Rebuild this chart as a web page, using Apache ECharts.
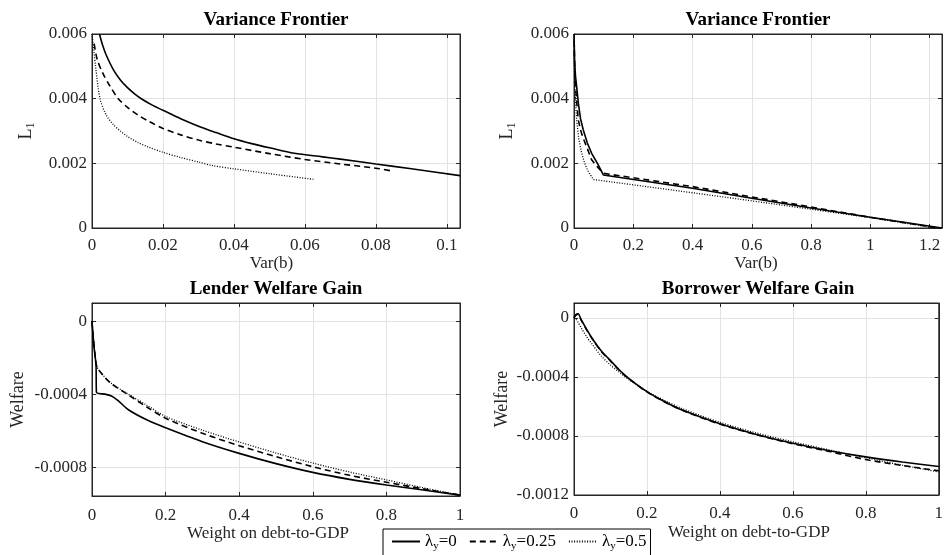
<!DOCTYPE html>
<html>
<head>
<meta charset="utf-8">
<script src="https://cdn.jsdelivr.net/npm/echarts@6/dist/echarts.min.js"></script>
<style>html,body{margin:0;padding:0;background:#fff}#c{width:946px;height:555px}</style>
</head>
<body>
<div id="c"></div>
<script>
// ---------- data ----------
const seriesLabels = ['0', '0.25', '0.5'];

// Panel 1: Variance Frontier (left)
const p1SolidX = [0.0021, 0.003, 0.004, 0.006, 0.008, 0.01, 0.012, 0.014, 0.017, 0.02, 0.025, 0.03, 0.035, 0.04, 0.045, 0.05, 0.057, 0.065, 0.07, 0.08, 0.09, 0.1037];
const p1SolidY = [0.0060, 0.00565, 0.00535, 0.0049, 0.00458, 0.00434, 0.00415, 0.00399, 0.0038, 0.00364, 0.00338, 0.00315, 0.00295, 0.00276, 0.00261, 0.00248, 0.00231, 0.00220, 0.00213, 0.00198, 0.00183, 0.00162];
const p1DashX = [0.0006, 0.0015, 0.003, 0.005, 0.0074, 0.01, 0.013, 0.016, 0.02, 0.025, 0.03, 0.035, 0.04, 0.05, 0.06, 0.07, 0.08, 0.0847];
const p1DashY = [0.0057, 0.0052, 0.0048, 0.0044, 0.0040, 0.00373, 0.00349, 0.0033, 0.00308, 0.00288, 0.00272, 0.0026, 0.0025, 0.0023, 0.00212, 0.00198, 0.00185, 0.00176];
const p1DotX = [0.0, 0.0005, 0.001, 0.00225, 0.004, 0.006, 0.008, 0.01, 0.013, 0.016, 0.02, 0.025, 0.03, 0.034, 0.04, 0.05, 0.0628];
const p1DotY = [0.0060, 0.0055, 0.0050, 0.0040, 0.0035, 0.0032, 0.0030, 0.00283, 0.00264, 0.0025, 0.00234, 0.00218, 0.00204, 0.00193, 0.00183, 0.00168, 0.00150];

// Panel 2: Variance Frontier (right)
const p2SolidX = [0.0, 0.002, 0.005, 0.009, 0.0146, 0.022, 0.0314, 0.045, 0.0596, 0.08, 0.099, 0.4, 0.6, 0.8, 1.0, 1.242];
const p2SolidY = [0.0060, 0.0052, 0.0047, 0.00437, 0.00386, 0.00338, 0.00303, 0.00263, 0.00231, 0.00198, 0.00164, 0.00123, 0.00092, 0.00062, 0.00033, 0.0];
const p2DashX = [0.0005, 0.003, 0.008, 0.0146, 0.022, 0.03, 0.0427, 0.06, 0.08, 0.1, 0.4, 0.6, 0.8, 1.0, 1.23];
const p2DashY = [0.0058, 0.0047, 0.0040, 0.00334, 0.00303, 0.0028, 0.00251, 0.0021, 0.00188, 0.00169, 0.00128, 0.00096, 0.00065, 0.00033, 0.0];
const p2DotX = [0.0, 0.002, 0.005, 0.009, 0.016, 0.026, 0.035, 0.045, 0.065, 0.4, 0.6, 0.8, 1.0, 1.22];
const p2DotY = [0.0055, 0.0045, 0.0039, 0.00334, 0.00276, 0.00231, 0.00203, 0.0018, 0.0015, 0.00109, 0.00084, 0.00058, 0.00032, 0.0];

// Panel 3: Lender Welfare Gain
const p3SolidX = [0, 0.003, 0.006, 0.009, 0.011, 0.012, 0.02, 0.035, 0.053, 0.07, 0.1, 0.15, 0.2, 0.3, 0.4, 0.5, 0.6, 0.7, 0.8, 0.9, 1.0];
const p3SolidY = [0, -0.00008, -0.00015, -0.0002, -0.00024, -0.000388, -0.000395, -0.000398, -0.000408, -0.000432, -0.000485, -0.00054, -0.000582, -0.000658, -0.000722, -0.000778, -0.000826, -0.000864, -0.000895, -0.000922, -0.00095];
const p3DashX = [0, 0.003, 0.008, 0.012, 0.02, 0.05, 0.1, 0.15, 0.2, 0.3, 0.4, 0.5, 0.6, 0.7, 0.8, 0.9, 1.0];
const p3DashY = [0, -0.00008, -0.00018, -0.00024, -0.00027, -0.000337, -0.000404, -0.00047, -0.00053, -0.000612, -0.00068, -0.00074, -0.000795, -0.000842, -0.00088, -0.000916, -0.00095];
const p3DotX = [0, 0.003, 0.008, 0.012, 0.02, 0.05, 0.1, 0.15, 0.2, 0.3, 0.4, 0.5, 0.6, 0.7, 0.8, 0.9, 1.0];
const p3DotY = [0, -0.00008, -0.00018, -0.00024, -0.00027, -0.000335, -0.0004, -0.00046, -0.00052, -0.000595, -0.00066, -0.00072, -0.000775, -0.000824, -0.000867, -0.00091, -0.00095];

// Panel 4: Borrower Welfare Gain
const p4X = [0, 0.005, 0.011, 0.02, 0.035, 0.05, 0.075, 0.1, 0.125, 0.15, 0.2, 0.25, 0.3, 0.4, 0.5, 0.6, 0.7, 0.8, 0.9, 1.0];
const p4SolidY = [0, 0.00002, 0.000027, -0.000015, -0.00008, -0.00014, -0.000225, -0.00029, -0.000355, -0.00041, -0.0005, -0.00057, -0.000628, -0.000718, -0.00079, -0.00085, -0.0009, -0.000942, -0.000977, -0.001007];
const p4DashY = [0, 0.000018, 0.000024, -0.000018, -0.000083, -0.000143, -0.000228, -0.000293, -0.000357, -0.000412, -0.000502, -0.000572, -0.00063, -0.00072, -0.000792, -0.000853, -0.000906, -0.00096, -0.001, -0.001036];
const p4DotY = [0, -0.00001, -0.00003, -0.00007, -0.00013, -0.00018, -0.00026, -0.00032, -0.00037, -0.000418, -0.000498, -0.000562, -0.000618, -0.000708, -0.00078, -0.00084, -0.000895, -0.000948, -0.000998, -0.001044];

// tick values
const p1XTicks = [0, 0.02, 0.04, 0.06, 0.08, 0.1];
const p2XTicks = [0, 0.2, 0.4, 0.6, 0.8, 1, 1.2];
const wXTicks = [0, 0.2, 0.4, 0.6, 0.8, 1];
const lYTicks = [0, 0.002, 0.004, 0.006];
const p3YTicks = [-0.0008, -0.0004, 0];
const p4YTicks = [-0.0012, -0.0008, -0.0004, 0];

// ---------- chart ----------
const FONT = '"Liberation Serif", "Times New Roman", serif';
const TXT = '#262626';
const zip = (xs, ys) => xs.map((x, i) => [x, ys[i]]);

const grids = [
  { left: 92, top: 34, width: 368, height: 194 },
  { left: 574, top: 34, width: 368, height: 194 },
  { left: 92, top: 303, width: 368, height: 193 },
  { left: 574, top: 303, width: 368, height: 192 }
];
const xRanges = [[0, 0.1037], [0, 1.242], [0, 1], [0, 1]];
const yRanges = [[0, 0.006], [0, 0.006], [-0.000955, 0.0001], [-0.0012, 0.0001]];
const xTicks = [p1XTicks, p2XTicks, wXTicks, wXTicks];
const yTicks = [lYTicks, lYTicks, p3YTicks, p4YTicks];
const xNames = ['Var(b)', 'Var(b)', 'Weight on debt-to-GDP', 'Weight on debt-to-GDP'];
const yNames = ['{m|L}{s|1}', '{m|L}{s|1}', '{m|Welfare}', '{m|Welfare}'];
const xNameGaps = [23, 23, 29, 29];
const xNamePads = [[0, 9, 0, 0], [0, 4, 0, 0], [0, 16, 0, 0], [0, 15, 0, 0]];
const xLabelMargins = [9, 9, 11, 10];
const yNameGaps = [55, 56, 63, 61];
const titles = ['Variance Frontier', 'Variance Frontier', 'Lender Welfare Gain', 'Borrower Welfare Gain'];
const smoothing = [0.3, false, 0.3, 0.3];

const fmt = v => {
  if (v === 0) return '0';
  return String(parseFloat(v.toPrecision(6)));
};

const xAxes = [], yAxes = [];
for (let i = 0; i < 4; i++) {
  xAxes.push({
    type: 'value', gridIndex: i, min: xRanges[i][0], max: xRanges[i][1], position: 'bottom',
    name: xNames[i], nameLocation: 'middle', nameGap: xNameGaps[i],
    nameTextStyle: { fontFamily: FONT, fontSize: 17, color: TXT, padding: xNamePads[i] },
    axisLine: { show: true, onZero: false, lineStyle: { color: TXT, width: 1 } },
    axisTick: { show: true, inside: true, length: 4, customValues: xTicks[i], lineStyle: { color: TXT } },
    axisLabel: { customValues: xTicks[i], formatter: fmt, fontFamily: FONT, fontSize: 17, color: TXT, margin: xLabelMargins[i] },
    splitLine: { show: true, lineStyle: { color: '#e3e3e3', width: 1 } }
  });
  yAxes.push({
    type: 'value', gridIndex: i, min: yRanges[i][0], max: yRanges[i][1], position: 'left',
    name: yNames[i], nameLocation: 'middle', nameGap: yNameGaps[i], nameRotate: 90,
    nameTextStyle: {
      fontFamily: FONT, color: TXT,
      rich: {
        m: { fontFamily: FONT, fontSize: 18, color: TXT, lineHeight: 22 },
        s: { fontFamily: FONT, fontSize: 12, color: TXT, lineHeight: 12, verticalAlign: 'bottom' }
      }
    },
    axisLine: { show: true, onZero: false, lineStyle: { color: TXT, width: 1 } },
    axisTick: { show: true, inside: true, length: 4, customValues: yTicks[i], lineStyle: { color: TXT } },
    axisLabel: { customValues: yTicks[i], formatter: fmt, fontFamily: FONT, fontSize: 17, color: TXT, margin: 5 },
    splitLine: { show: true, lineStyle: { color: '#e3e3e3', width: 1 } }
  });
}
for (let i = 0; i < 4; i++) {
  xAxes.push({
    type: 'value', gridIndex: i, min: xRanges[i][0], max: xRanges[i][1], position: 'top',
    axisLine: { show: true, onZero: false, lineStyle: { color: TXT, width: 1 } },
    axisTick: { show: true, inside: true, length: 4, customValues: xTicks[i], lineStyle: { color: TXT } },
    axisLabel: { show: false }, splitLine: { show: false }
  });
  yAxes.push({
    type: 'value', gridIndex: i, min: yRanges[i][0], max: yRanges[i][1], position: 'right',
    axisLine: { show: true, onZero: false, lineStyle: { color: TXT, width: 1 } },
    axisTick: { show: true, inside: true, length: 4, customValues: yTicks[i], lineStyle: { color: TXT } },
    axisLabel: { show: false }, splitLine: { show: false }
  });
}

const names = seriesLabels.map(l => 'λy=' + l);
const styles = [
  { color: '#000', width: 1.6, type: 'solid' },
  { color: '#000', width: 1.6, type: [6, 4] },
  { color: '#000', width: 1.3, type: [1, 1.6] }
];
const panelData = [
  [zip(p1SolidX, p1SolidY), zip(p1DashX, p1DashY), zip(p1DotX, p1DotY)],
  [zip(p2SolidX, p2SolidY), zip(p2DashX, p2DashY), zip(p2DotX, p2DotY)],
  [zip(p3SolidX, p3SolidY), zip(p3DashX, p3DashY), zip(p3DotX, p3DotY)],
  [zip(p4X, p4SolidY), zip(p4X, p4DashY), zip(p4X, p4DotY)]
];
const series = [];
for (let i = 0; i < 4; i++) {
  for (let k = 0; k < 3; k++) {
    series.push({
      type: 'line', name: names[k], xAxisIndex: i, yAxisIndex: i,
      data: panelData[i][k], showSymbol: false, symbol: 'none', smooth: smoothing[i],
      lineStyle: styles[k], itemStyle: { color: '#000' }, z: 5 - k, clip: true
    });
  }
}

const option = {
  animation: false,
  backgroundColor: '#fff',
  title: titles.map((t, i) => ({
    text: t, left: grids[i].left + grids[i].width / 2, top: grids[i].top - 23, textAlign: 'center', padding: 0,
    textStyle: { fontFamily: FONT, fontSize: 19, fontWeight: 'bold', color: '#000' }
  })),
  grid: grids.map(g => Object.assign({ show: true, borderColor: TXT, borderWidth: 1, backgroundColor: '#fff' }, g)),
  xAxis: xAxes,
  yAxis: yAxes,
  legend: {
    data: names, left: 383, top: 529, orient: 'horizontal',
    itemWidth: 28, itemHeight: 10, itemGap: 12,
    padding: [4, 4, 20, 8],
    borderColor: '#000', borderWidth: 1, backgroundColor: '#fff',
    itemStyle: { color: 'rgba(0,0,0,0)', borderWidth: 0, opacity: 0 },
    formatter: name => '{a|λ}{s|y}{a|' + name.slice(2) + '}',
    textStyle: {
      fontFamily: FONT, color: '#000',
      rich: {
        a: { fontFamily: FONT, fontSize: 17, color: '#000', lineHeight: 20 },
        s: { fontFamily: FONT, fontSize: 11, color: '#000', lineHeight: 12, verticalAlign: 'bottom' }
      }
    }
  },
  series: series
};

const chart = echarts.init(document.getElementById('c'), null, { renderer: 'canvas' });
chart.setOption(option);
</script>
</body>
</html>
